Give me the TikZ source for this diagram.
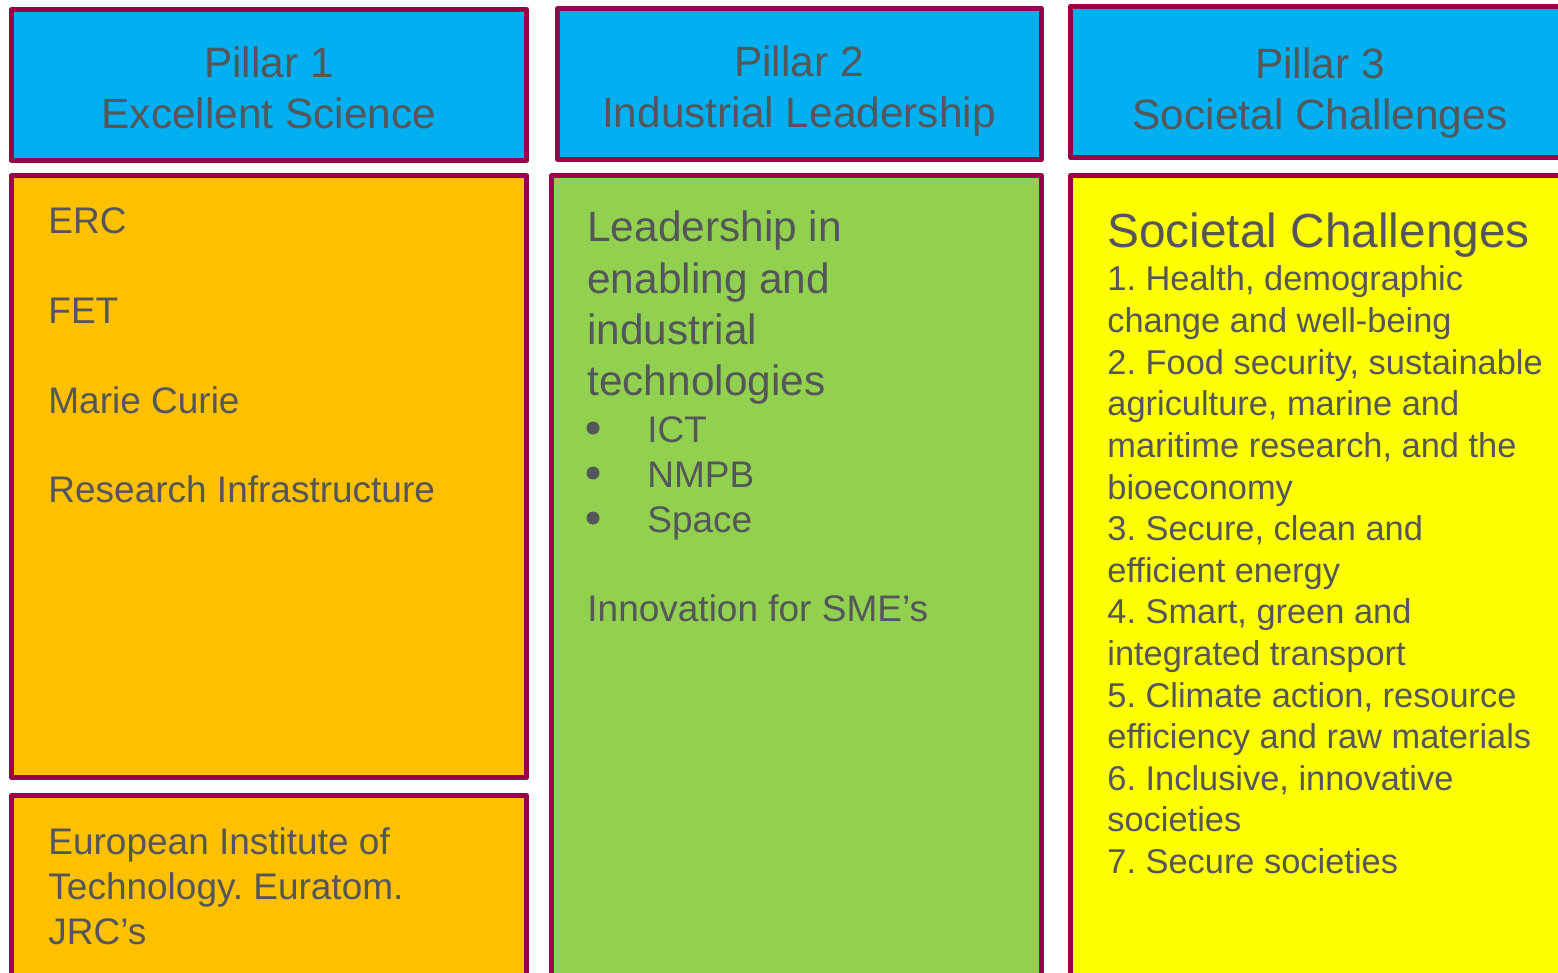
\documentclass[tikz,border=0pt]{standalone}
\usepackage{fontspec}
\setmainfont{Liberation Sans}
\usepackage{tikz}
\definecolor{frame}{RGB}{153,0,71}
\definecolor{ink}{RGB}{84,86,90}
\definecolor{pillarblue}{RGB}{0,176,240}
\definecolor{pillarorange}{RGB}{255,192,0}
\definecolor{pillargreen}{RGB}{146,208,80}
\definecolor{pillaryellow}{RGB}{255,255,0}
\def\headfont{\fontsize{21.2}{25}\selectfont}
\def\bodyfont{\fontsize{18.5}{22.5}\selectfont}
\def\bigfont{\fontsize{21.2}{25.5}\selectfont}
\def\titlefont{\fontsize{23.9}{28}\selectfont}
\def\listfont{\fontsize{17.2}{20.8}\selectfont}
\frenchspacing

\begin{document}
\begin{tikzpicture}[x=0.5pt, y=-0.5pt,
		box/.style={draw=frame, line width=2.5pt, line join=round},
		txt/.style={inner sep=0pt, text=ink, anchor=base west},
		head/.style={inner sep=0pt, text=ink, anchor=base, font=\headfont},
		dot/.style={circle, fill=ink, inner sep=0pt, minimum size=6.5pt}]
		%%%%% START %%%%%
		
		\useasboundingbox (0, 0) rectangle (1558, 973);
		\clip (0, 0) rectangle (1558, 973);
		
		% header row
		\draw[box, fill=pillarblue] (11.5, 9.5) rectangle (526.5, 160.5);
		\draw[box, fill=pillarblue] (557.5, 8.5) rectangle (1041.5, 159.5);
		\draw[box, fill=pillarblue] (1070.5, 6.5) rectangle (1570, 157.5);
		
		\node[head] (p1num) at (269, 78) {Pillar 1};
		\node[head] (p1name) at (269, 129) {Excellent Science};
		\node[head] (p2num) at (799, 77) {Pillar 2};
		\node[head] (p2name) at (799, 128) {Industrial Leadership};
		\node[head] (p3num) at (1320, 79) {Pillar 3};
		\node[head] (p3name) at (1320, 130) {Societal Challenges};
		
		% pillar 1
		\draw[box, fill=pillarorange] (11.5, 175.5) rectangle (526.5, 777.5);
		\draw[box, fill=pillarorange] (11.5, 795.5) rectangle (526.5, 1000);
		
		\node[txt, font=\bodyfont] (erc) at (48, 234) {ERC};
		\node[txt, font=\bodyfont] (fet) at (48, 323.5) {FET};
		\node[txt, font=\bodyfont] (mcurie) at (48, 413) {Marie Curie};
		\node[txt, font=\bodyfont] (infra) at (48, 502.5) {Research Infrastructure};
		
		\node[txt, font=\bodyfont] (eit1) at (48, 854) {European Institute of};
		\node[txt, font=\bodyfont] (eit2) at (48, 899) {Technology. Euratom.};
		\node[txt, font=\bodyfont] (eit3) at (48, 944) {JRC’s};
		
		% pillar 2
		\draw[box, fill=pillargreen] (551.5, 175.5) rectangle (1041.5, 1000);
		
		\node[txt, font=\bigfont] (lead1) at (587, 242) {Leadership in};
		\node[txt, font=\bigfont] (lead2) at (587, 293) {enabling and};
		\node[txt, font=\bigfont] (lead3) at (587, 344) {industrial};
		\node[txt, font=\bigfont] (lead4) at (587, 395) {technologies};
		
		\node[dot] (dict) at (593, 428) {};
		\node[dot] (dnmpb) at (593, 473) {};
		\node[dot] (dspace) at (593, 518) {};
		\node[txt, font=\bodyfont] (ict) at (647, 442) {ICT};
		\node[txt, font=\bodyfont] (nmpb) at (647, 487) {NMPB};
		\node[txt, font=\bodyfont] (space) at (647, 532) {Space};
		
		\node[txt, font=\bodyfont] (sme) at (587, 621) {Innovation for SME’s};
		
		% pillar 3
		\draw[box, fill=pillaryellow] (1070.5, 175.5) rectangle (1570, 1000);
		
		\node[txt, font=\titlefont] (sctitle) at (1107, 248) {Societal Challenges};
		\node[txt, font=\listfont] (sc1a) at (1107, 291) {1. Health, demographic};
		\node[txt, font=\listfont] (sc1b) at (1107, 332.6) {change and well-being};
		\node[txt, font=\listfont] (sc2a) at (1107, 374.2) {2. Food security, sustainable};
		\node[txt, font=\listfont] (sc2b) at (1107, 415.8) {agriculture, marine and};
		\node[txt, font=\listfont] (sc2c) at (1107, 457.4) {maritime research, and the};
		\node[txt, font=\listfont] (sc2d) at (1107, 499) {bioeconomy};
		\node[txt, font=\listfont] (sc3a) at (1107, 540.6) {3. Secure, clean and};
		\node[txt, font=\listfont] (sc3b) at (1107, 582.2) {efficient energy};
		\node[txt, font=\listfont] (sc4a) at (1107, 623.8) {4. Smart, green and};
		\node[txt, font=\listfont] (sc4b) at (1107, 665.4) {integrated transport};
		\node[txt, font=\listfont] (sc5a) at (1107, 707) {5. Climate action, resource};
		\node[txt, font=\listfont] (sc5b) at (1107, 748.6) {efficiency and raw materials};
		\node[txt, font=\listfont] (sc6a) at (1107, 790.2) {6. Inclusive, innovative};
		\node[txt, font=\listfont] (sc6b) at (1107, 831.8) {societies};
		\node[txt, font=\listfont] (sc7) at (1107, 873.4) {7. Secure societies};
		
		%%%%% END %%%%%
	\end{tikzpicture}
\end{document}
